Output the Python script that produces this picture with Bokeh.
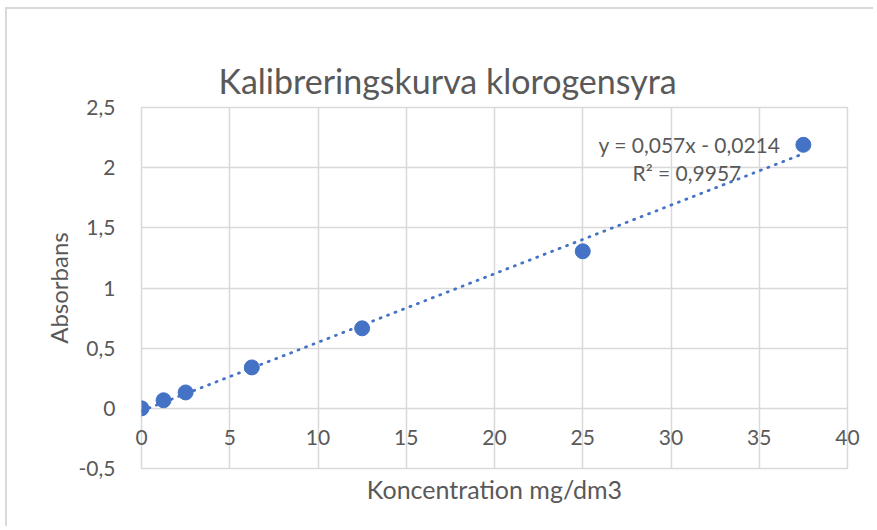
from bokeh.plotting import figure
from bokeh.models import Label, FixedTicker, LinearAxis
from bokeh.embed import file_html
from bokeh.resources import INLINE

# Data
konc = [0, 1.25, 2.5, 6.25, 12.5, 25, 37.5]
absorbans = [0.0, 0.067, 0.132, 0.34, 0.665, 1.305, 2.19]
slope = 0.057
intercept = -0.0214
eq_text = "y = 0,057x - 0,0214"
r2_text = "R² = 0,9957"
x_ticks = [0, 5, 10, 15, 20, 25, 30, 35, 40]
x_tick_labels = ["0", "5", "10", "15", "20", "25", "30", "35", "40"]
y_ticks = [-0.5, 0, 0.5, 1, 1.5, 2, 2.5]
y_tick_labels = ["-0,5", "0", "0,5", "1", "1,5", "2", "2,5"]

FONT = "Lato"
TXT = "#595959"
GRID = "#d9d9d9"
BLUE = "#4472C4"

p = figure(width=868, height=519, output_backend="svg", toolbar_location=None,
           x_range=(0, 40), y_range=(-0.5, 2.5),
           min_border_left=134, min_border_right=28, min_border_top=98, min_border_bottom=60,
           title="Kalibreringskurva klorogensyra")
p.styles = {"border-left": "2px solid #d9d9d9", "border-top": "2px solid #d9d9d9",
            "margin-left": "5px", "margin-top": "7px"}
p.title.align = "left"
p.title.offset = 77
p.title.vertical_align = "top"
p.title.text_font = FONT
p.title.text_font_style = "normal"
p.title.text_font_size = "34px"
p.title.text_color = TXT
p.title.standoff = 10
p.outline_line_color = GRID
p.outline_line_width = 1.5

# grids
p.xgrid.ticker = FixedTicker(ticks=x_ticks)
p.ygrid.ticker = FixedTicker(ticks=y_ticks)
p.xgrid.grid_line_color = GRID
p.ygrid.grid_line_color = GRID
p.xgrid.grid_line_width = 1.5
p.ygrid.grid_line_width = 1.5

# y axis
p.yaxis.ticker = FixedTicker(ticks=y_ticks)
p.yaxis.major_label_overrides = {t: l for t, l in zip(y_ticks, y_tick_labels)}
p.yaxis.axis_line_color = None
p.yaxis.major_tick_line_color = None
p.yaxis.minor_tick_line_color = None
p.yaxis.major_label_standoff = 20
p.yaxis.major_label_text_font = FONT
p.yaxis.major_label_text_font_size = "21px"
p.yaxis.major_label_text_color = TXT
p.yaxis.axis_label = "Absorbans"
p.yaxis.axis_label_text_font = FONT
p.yaxis.axis_label_text_font_style = "normal"
p.yaxis.axis_label_text_font_size = "24px"
p.yaxis.axis_label_text_color = TXT
p.yaxis.axis_label_standoff = 3

# x axis: tick labels sit just under the y = 0 line (negative standoff)
xax = p.below[0]
xax.ticker = FixedTicker(ticks=x_ticks)
xax.major_label_overrides = {t: l for t, l in zip(x_ticks, x_tick_labels)}
xax.axis_line_color = None
xax.major_tick_line_color = None
xax.minor_tick_line_color = None
xax.major_tick_in = 0
xax.major_tick_out = 0
xax.major_label_standoff = -39
xax.major_label_text_font = FONT
xax.major_label_text_font_size = "21px"
xax.major_label_text_color = TXT
xax.axis_label = "Koncentration mg/dm3"
xax.axis_label_text_font = FONT
xax.axis_label_text_font_style = "normal"
xax.axis_label_text_font_size = "25px"
xax.axis_label_text_color = TXT
xax.axis_label_standoff = 26

# empty spacer between title and plot area (no ticks, white tick style)
spacer = LinearAxis(ticker=FixedTicker(ticks=[]), axis_line_color=None,
                    major_tick_line_color="#ffffff", minor_tick_line_color=None,
                    major_tick_in=0, major_tick_out=36, major_label_standoff=0)
p.add_layout(spacer, "above")

# trend line
tx = [min(konc), max(konc)]
ty = [slope * v + intercept for v in tx]
p.line(tx, ty, line_color=BLUE, line_width=2.8, line_dash="1 7", line_cap="round")

# points
p.scatter(konc, absorbans, size=15, fill_color=BLUE, line_color=BLUE)

# equation labels
p.add_layout(Label(x=31.05, y=2.195, text=eq_text, text_align="center", text_baseline="middle",
                   text_font=FONT, text_font_size="21px", text_color=TXT))
p.add_layout(Label(x=30.9, y=1.96, text=r2_text, text_align="center", text_baseline="middle",
                   text_font=FONT, text_font_size="21px", text_color=TXT))

open("out.html", "w").write(file_html(p, INLINE))
